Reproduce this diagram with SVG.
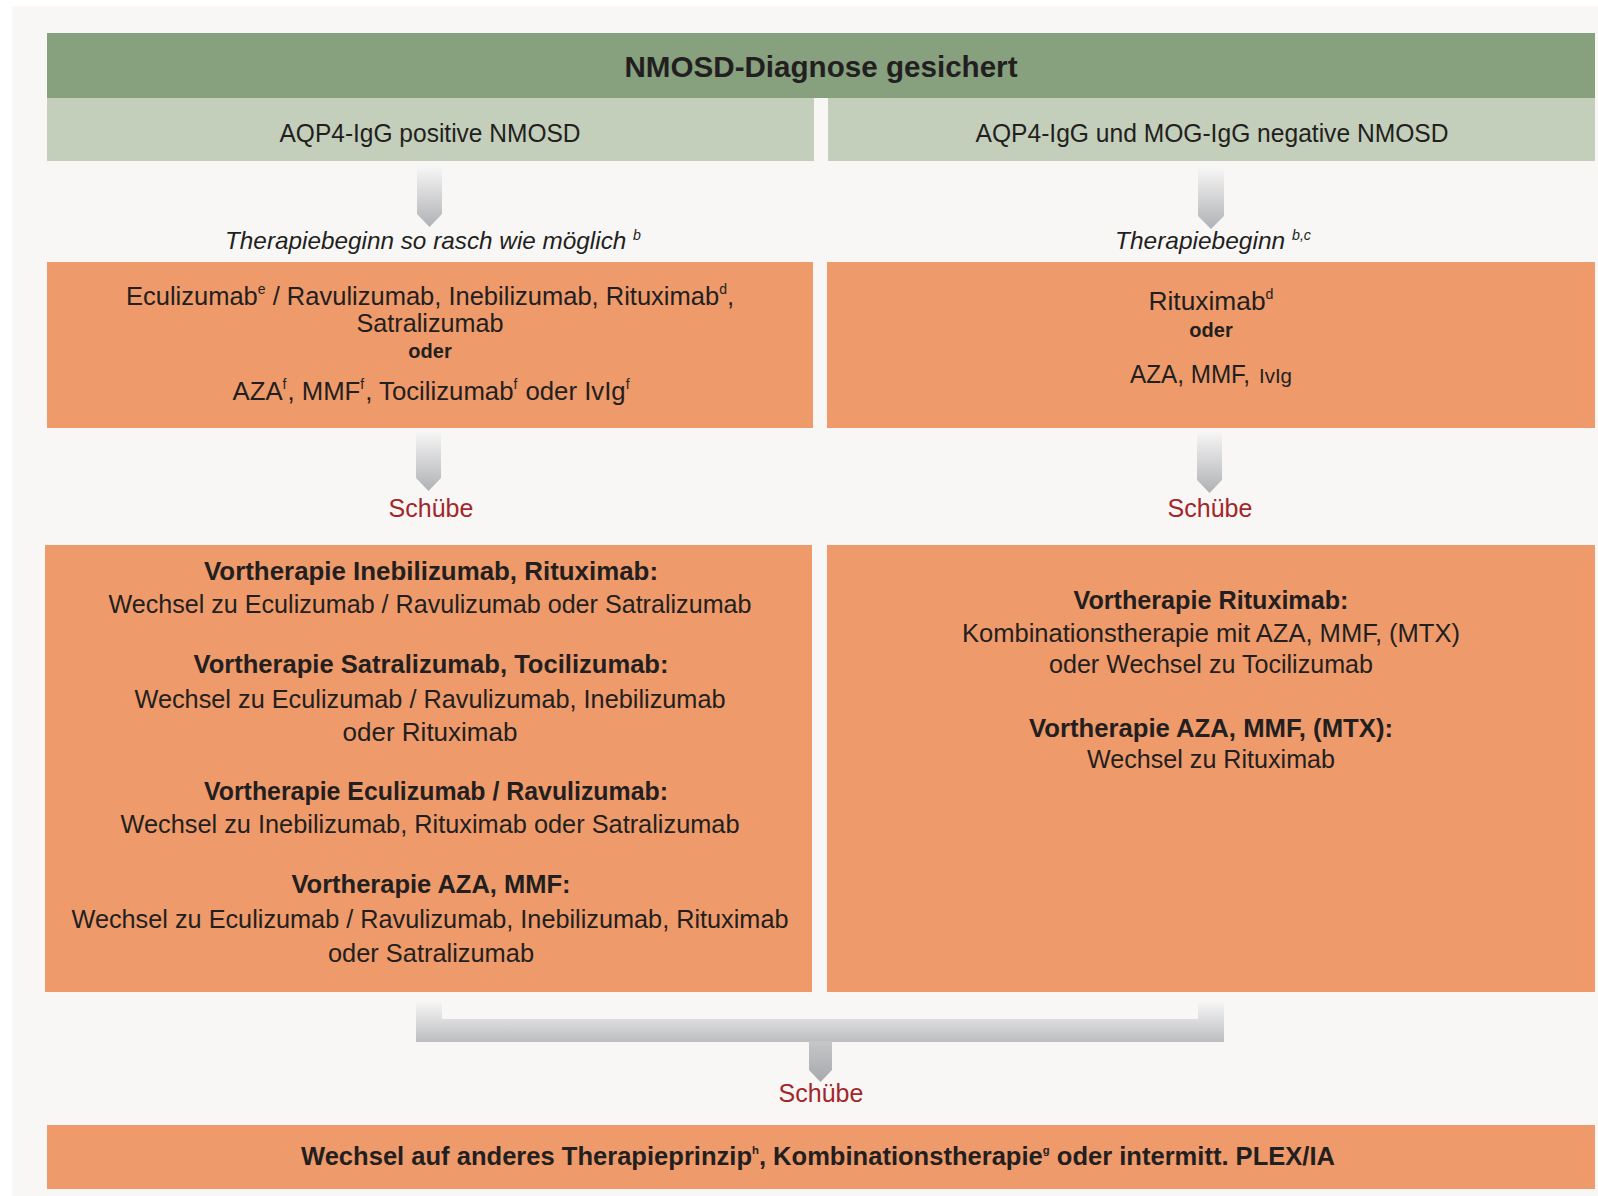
<svg xmlns="http://www.w3.org/2000/svg" width="1598" height="1196" viewBox="0 0 1598 1196">
<defs>
<style>
text{font-family:"Liberation Sans",Arial,sans-serif;fill:#231f20;text-anchor:middle}
.b{font-weight:bold}
.body{font-size:26px}
.it{font-style:italic;font-size:24px}
.red{fill:#a3262a;font-size:25px}
.sup{font-size:14px}
.green{fill:#87a07e}
.lgreen{fill:#c3cfbb}
.orange{fill:#ee9a6a}
</style>
<linearGradient id="ga" x1="0" y1="0" x2="0" y2="1">
<stop offset="0" stop-color="#f6f6f6"/>
<stop offset="1" stop-color="#b0b1b4"/>
</linearGradient>
<linearGradient id="gb" gradientUnits="userSpaceOnUse" x1="0" y1="1002" x2="0" y2="1042">
<stop offset="0" stop-color="#f6f6f6"/>
<stop offset="1" stop-color="#bcbdc0"/>
</linearGradient>
<linearGradient id="gc" gradientUnits="userSpaceOnUse" x1="0" y1="1040" x2="0" y2="1082">
<stop offset="0" stop-color="#c6c7c9"/>
<stop offset="1" stop-color="#a8a9ac"/>
</linearGradient>
</defs>
<rect x="0" y="0" width="1598" height="1196" fill="#ffffff"/>
<rect x="12" y="6" width="1586" height="1190" fill="#f8f7f6"/>

<g id="connectors">
<path d="M417,167 H442 V214 L429.5,227 L417,214 Z" fill="url(#ga)"/>
<path d="M1198,168 H1224 V216 L1211,229 L1198,216 Z" fill="url(#ga)"/>
<path d="M416,432 H441 V478 L428.5,491 L416,478 Z" fill="url(#ga)"/>
<path d="M1197,432 H1222 V480 L1209.5,493 L1197,480 Z" fill="url(#ga)"/>
<path d="M416,1002 H442 V1019 H1198 V1002 H1224 V1042 H416 Z" fill="url(#gb)"/>
<path d="M809,1041 H832 V1070 L820.5,1082 L809,1070 Z" fill="url(#gc)"/>
<text class="red" x="431" y="517">Schübe</text>
<text class="red" x="1210" y="517">Schübe</text>
<text class="red" x="821" y="1102">Schübe</text>
<text class="it" x="433" y="249" textLength="416" lengthAdjust="spacingAndGlyphs">Therapiebeginn so rasch wie möglich <tspan class="sup" dy="-9">b</tspan></text>
<text class="it" x="1213" y="249" textLength="196" lengthAdjust="spacingAndGlyphs">Therapiebeginn <tspan class="sup" dy="-9">b,c</tspan></text>
</g>

<g id="header">
<rect class="green" x="47" y="33" width="1548" height="65"/>
<text class="b" x="821" y="77" font-size="30" textLength="393" lengthAdjust="spacingAndGlyphs">NMOSD-Diagnose gesichert</text>
</g>

<g id="sub-left">
<rect class="lgreen" x="47" y="98" width="767" height="63"/>
<text x="430" y="142" font-size="25" textLength="301" lengthAdjust="spacingAndGlyphs">AQP4-IgG positive NMOSD</text>
</g>

<g id="sub-right">
<rect class="lgreen" x="828" y="98" width="767" height="63"/>
<text x="1212" y="142" font-size="25" textLength="473" lengthAdjust="spacingAndGlyphs">AQP4-IgG und MOG-IgG negative NMOSD</text>
</g>

<g id="therapy-left">
<rect class="orange" x="47" y="262" width="766" height="166"/>
<text x="430" y="305" font-size="25.5">Eculizumab<tspan class="sup" dy="-11">e</tspan><tspan dy="11"> / Ravulizumab, Inebilizumab, Rituximab</tspan><tspan class="sup" dy="-11">d</tspan><tspan dy="11">,</tspan></text>
<text class="body" x="430" y="332" textLength="147" lengthAdjust="spacingAndGlyphs">Satralizumab</text>
<text class="b" x="430" y="358" font-size="20">oder</text>
<text class="body" x="431" y="400" textLength="397" lengthAdjust="spacingAndGlyphs">AZA<tspan class="sup" dy="-11">f</tspan><tspan dy="11" dx="1">, MMF</tspan><tspan class="sup" dy="-11">f</tspan><tspan dy="11" dx="1">, Tocilizumab</tspan><tspan class="sup" dy="-11">f</tspan><tspan dy="11" dx="1"> oder IvIg</tspan><tspan class="sup" dy="-11">f</tspan></text>
</g>

<g id="therapy-right">
<rect class="orange" x="827" y="262" width="768" height="166"/>
<text class="body" x="1211" y="310" textLength="125" lengthAdjust="spacingAndGlyphs">Rituximab<tspan class="sup" dy="-11">d</tspan></text>
<text class="b" x="1211" y="337" font-size="20">oder</text>
<text class="body" x="1250" y="383" style="text-anchor:end" textLength="120" lengthAdjust="spacingAndGlyphs">AZA, MMF,</text>
<text x="1259" y="383" font-size="20" style="text-anchor:start" textLength="33" lengthAdjust="spacingAndGlyphs">IvIg</text>
</g>

<g id="relapse-left">
<rect class="orange" x="45" y="545" width="767" height="447"/>
<text class="body b" x="431" y="580" textLength="454" lengthAdjust="spacingAndGlyphs">Vortherapie Inebilizumab, Rituximab:</text>
<text class="body" x="430" y="613" textLength="643" lengthAdjust="spacingAndGlyphs">Wechsel zu Eculizumab / Ravulizumab oder Satralizumab</text>
<text class="body b" x="431" y="673" textLength="475" lengthAdjust="spacingAndGlyphs">Vortherapie Satralizumab, Tocilizumab:</text>
<text class="body" x="430" y="708" textLength="591" lengthAdjust="spacingAndGlyphs">Wechsel zu Eculizumab / Ravulizumab, Inebilizumab</text>
<text class="body" x="430" y="741" textLength="175" lengthAdjust="spacingAndGlyphs">oder Rituximab</text>
<text class="body b" x="436" y="800" textLength="464" lengthAdjust="spacingAndGlyphs">Vortherapie Eculizumab / Ravulizumab:</text>
<text class="body" x="430" y="833" textLength="619" lengthAdjust="spacingAndGlyphs">Wechsel zu Inebilizumab, Rituximab oder Satralizumab</text>
<text class="body b" x="431" y="893" textLength="279" lengthAdjust="spacingAndGlyphs">Vortherapie AZA, MMF:</text>
<text class="body" x="430" y="928" textLength="717" lengthAdjust="spacingAndGlyphs">Wechsel zu Eculizumab / Ravulizumab, Inebilizumab, Rituximab</text>
<text class="body" x="431" y="962" textLength="206" lengthAdjust="spacingAndGlyphs">oder Satralizumab</text>
</g>

<g id="relapse-right">
<rect class="orange" x="827" y="545" width="768" height="447"/>
<text class="body b" x="1211" y="609" textLength="275" lengthAdjust="spacingAndGlyphs">Vortherapie Rituximab:</text>
<text class="body" x="1211" y="642" textLength="498" lengthAdjust="spacingAndGlyphs">Kombinationstherapie mit AZA, MMF, (MTX)</text>
<text class="body" x="1211" y="673" textLength="324" lengthAdjust="spacingAndGlyphs">oder Wechsel zu Tocilizumab</text>
<text class="body b" x="1211" y="737" textLength="364" lengthAdjust="spacingAndGlyphs">Vortherapie AZA, MMF, (MTX):</text>
<text class="body" x="1211" y="768" textLength="248" lengthAdjust="spacingAndGlyphs">Wechsel zu Rituximab</text>
</g>

<g id="final">
<rect class="orange" x="47" y="1125" width="1548" height="64"/>
<text class="b" x="818" y="1165" font-size="25" textLength="1034" lengthAdjust="spacingAndGlyphs">Wechsel auf anderes Therapieprinzip<tspan font-size="11" dy="-11">h</tspan><tspan dy="11">, Kombinationstherapie</tspan><tspan font-size="11" dy="-11">g</tspan><tspan dy="11"> oder intermitt. PLEX/IA</tspan></text>
</g>
</svg>
